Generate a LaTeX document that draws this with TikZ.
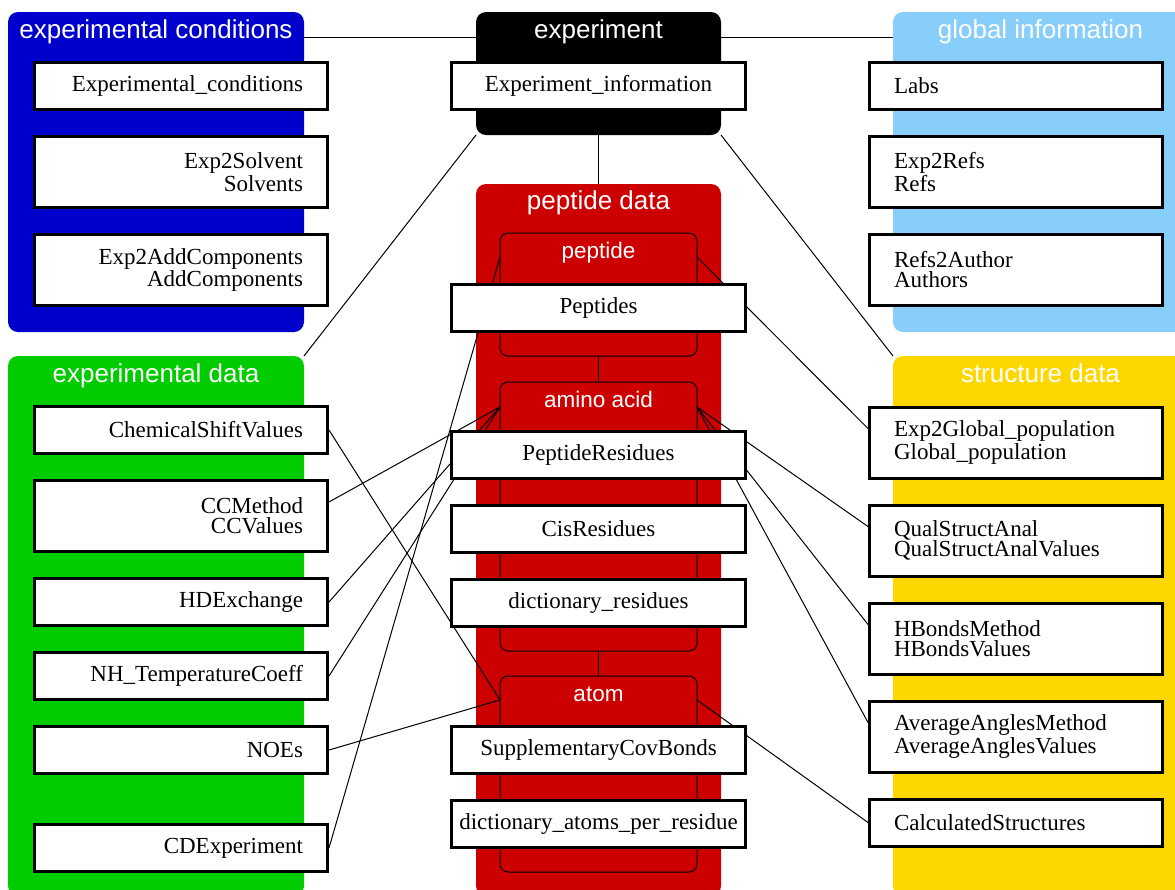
\documentclass[tikz,border=0pt]{standalone}
\usepackage{fontspec}
\setmainfont{Liberation Serif}
\setsansfont{Liberation Sans}
\usetikzlibrary{positioning}

\definecolor{condblue}{RGB}{0,0,204}
\definecolor{infoblue}{RGB}{135,206,250}
\definecolor{datagreen}{RGB}{0,204,0}
\definecolor{pepred}{RGB}{204,0,0}
\definecolor{structgold}{RGB}{255,215,0}

\pgfdeclarelayer{groups}
\pgfdeclarelayer{links}
\pgfsetlayers{groups,links,main}

\tikzset{
  grp/.style={rounded corners=5pt, inner sep=0pt, outer sep=0pt},
  subgrp/.style={draw, line width=0.5pt, fill=pepred, rounded corners=4pt, inner sep=0pt, outer sep=0pt, minimum width=98.5pt},
  grptitle/.style={text=white, anchor=base, inner sep=0pt, font=\sffamily\fontsize{13}{13}\selectfont},
  subtitle/.style={grptitle, font=\sffamily\fontsize{11.25}{12}\selectfont},
  tbl/.style={draw, line width=1.5pt, fill=white, inner xsep=12.25pt, inner ysep=0pt, text width=122pt, minimum height=23.5pt, font=\fontsize{11.5}{10}\selectfont},
  tall/.style={minimum height=35.5pt},
  midcol/.style={inner xsep=2pt, text width=143pt, align=center},
  link/.style={line width=0.5pt}
}

\begin{document}
\begin{tikzpicture}[x=0.5pt,y=-0.5pt]
	\useasboundingbox (0,0) rectangle (1175,890);

	% coloured groups
	\begin{pgfonlayer}{groups}
		\node[grp,fill=condblue,minimum width=148pt,minimum height=160pt](condgrp) at (156,172){};
		\node[grp,fill=black,minimum width=122.5pt,minimum height=61.5pt](expgrp) at (598.5,73.5){};
		\node[grp,fill=infoblue,minimum width=147.5pt,minimum height=160pt](infogrp) at (1040.5,172){};
		\node[grp,fill=datagreen,minimum width=148pt,minimum height=270pt](datagrp) at (156,626){};
		\node[grp,fill=pepred,minimum width=122.5pt,minimum height=356pt](pepgrp) at (598.5,540){};
		\node[grp,fill=structgold,minimum width=147.5pt,minimum height=270pt](structgrp) at (1040.5,626){};
		\node[subgrp,minimum height=61.5pt](pepsub) at (598.5,294.5){};
		\node[subgrp,minimum height=134.5pt](aminosub) at (598.5,516.5){};
		\node[subgrp,minimum height=98pt](atomsub) at (598.5,774){};

		\node[grptitle](condtitle) at ([yshift=-13.25pt]condgrp.north){experimental conditions};
		\node[grptitle](exptitle) at ([yshift=-13.25pt]expgrp.north){experiment};
		\node[grptitle](infotitle) at ([yshift=-13.25pt]infogrp.north){global information};
		\node[grptitle](datatitle) at ([yshift=-13.25pt]datagrp.north){experimental data};
		\node[grptitle](peptitle) at ([yshift=-12.75pt]pepgrp.north){peptide data};
		\node[grptitle](structtitle) at ([yshift=-13.25pt]structgrp.north){structure data};
		\node[subtitle](pepsubtitle) at ([yshift=-12.75pt]pepsub.north){peptide};
		\node[subtitle](aminotitle) at ([yshift=-12.5pt]aminosub.north){amino acid};
		\node[subtitle](atomtitle) at ([yshift=-12.75pt]atomsub.north){atom};
	\end{pgfonlayer}

	% tables, left column
	\node[tbl,align=right](expcond) at (181,86){Experimental\_conditions};
	\node[tbl,tall,align=right,below=12pt of expcond](solv){Exp2Solvent\\Solvents};
	\node[tbl,tall,align=right,below=12pt of solv](addcomp){Exp2AddComponents\\AddComponents};
	\node[tbl,align=right](chemshift) at (181,430){ChemicalShiftValues};
	\node[tbl,tall,align=right,below=12pt of chemshift](ccm){CCMethod\\CCValues};
	\node[tbl,align=right,below=12pt of ccm](hdex){HDExchange};
	\node[tbl,align=right,below=12pt of hdex](nhtemp){NH\_TemperatureCoeff};
	\node[tbl,align=right,below=12pt of nhtemp](noes){NOEs};
	\node[tbl,align=right,below=24pt of noes](cdexp){CDExperiment};

	% tables, middle column
	\node[tbl,midcol](expinfo) at (598.5,86){Experiment\_information};
	\node[tbl,midcol](peptides) at (598.5,308){Peptides};
	\node[tbl,midcol](pepres) at (598.5,454.5){PeptideResidues};
	\node[tbl,midcol,below=12pt of pepres](cis){CisResidues};
	\node[tbl,midcol,below=12pt of cis](dictres){dictionary\_residues};
	\node[tbl,midcol](supcov) at (598.5,749.5){SupplementaryCovBonds};
	\node[tbl,midcol,below=12pt of supcov](dictatoms){dictionary\_atoms\_per\_residue};

	% tables, right column
	\node[tbl,align=left](labs) at (1016,86){Labs};
	\node[tbl,tall,align=left,below=12pt of labs](refs){Exp2Refs\\Refs};
	\node[tbl,tall,align=left,below=12pt of refs](authors){Refs2Author\\Authors};
	\node[tbl,tall,align=left](globpop) at (1016,442.5){Exp2Global\_population\\Global\_population};
	\node[tbl,tall,align=left,below=12pt of globpop](qual){QualStructAnal\\QualStructAnalValues};
	\node[tbl,tall,align=left,below=12pt of qual](hbonds){HBondsMethod\\HBondsValues};
	\node[tbl,tall,align=left,below=12pt of hbonds](avgang){AverageAnglesMethod\\AverageAnglesValues};
	\node[tbl,align=left,below=12pt of avgang](calc){CalculatedStructures};

	\coordinate (pepw) at ([yshift=-12pt]pepsub.north west);
	\coordinate (pepe) at ([yshift=-12pt]pepsub.north east);
	\coordinate (aminow) at ([yshift=-12.5pt]aminosub.north west);
	\coordinate (aminoe) at ([yshift=-12.5pt]aminosub.north east);
	\coordinate (atomw) at ([yshift=-12pt]atomsub.north west);
	\coordinate (atome) at ([yshift=-12pt]atomsub.north east);

	\begin{pgfonlayer}{links}
		\draw[link] ([yshift=-12.5pt]condgrp.north east) to ([yshift=-12.5pt]expgrp.north west);
		\draw[link] ([yshift=-12.5pt]expgrp.north east) to ([yshift=-12.5pt]infogrp.north west);
		\draw[link] (expgrp.south) to (pepgrp.north);
		\draw[link] (expgrp.south west) to (datagrp.north east);
		\draw[link] (expgrp.south east) to (structgrp.north west);
		\draw[link] (pepsub.south) to (aminosub.north);
		\draw[link] (aminosub.south) to (atomsub.north);

		\draw[link] (pepw) to (cdexp.east);
		\draw[link] (pepe) to ([yshift=7pt]globpop.west);
		\draw[link] (aminow) to ([yshift=7pt]ccm.east);
		\draw[link] (aminow) to (hdex.east);
		\draw[link] (aminow) to (nhtemp.east);
		\draw[link] (aminoe) to ([yshift=7pt]qual.west);
		\draw[link] (aminoe) to ([yshift=7pt]hbonds.west);
		\draw[link] (aminoe) to ([yshift=7pt]avgang.west);
		\draw[link] (atomw) to (chemshift.east);
		\draw[link] (atomw) to (noes.east);
		\draw[link] (atome) to (calc.west);
	\end{pgfonlayer}
\end{tikzpicture}
\end{document}
